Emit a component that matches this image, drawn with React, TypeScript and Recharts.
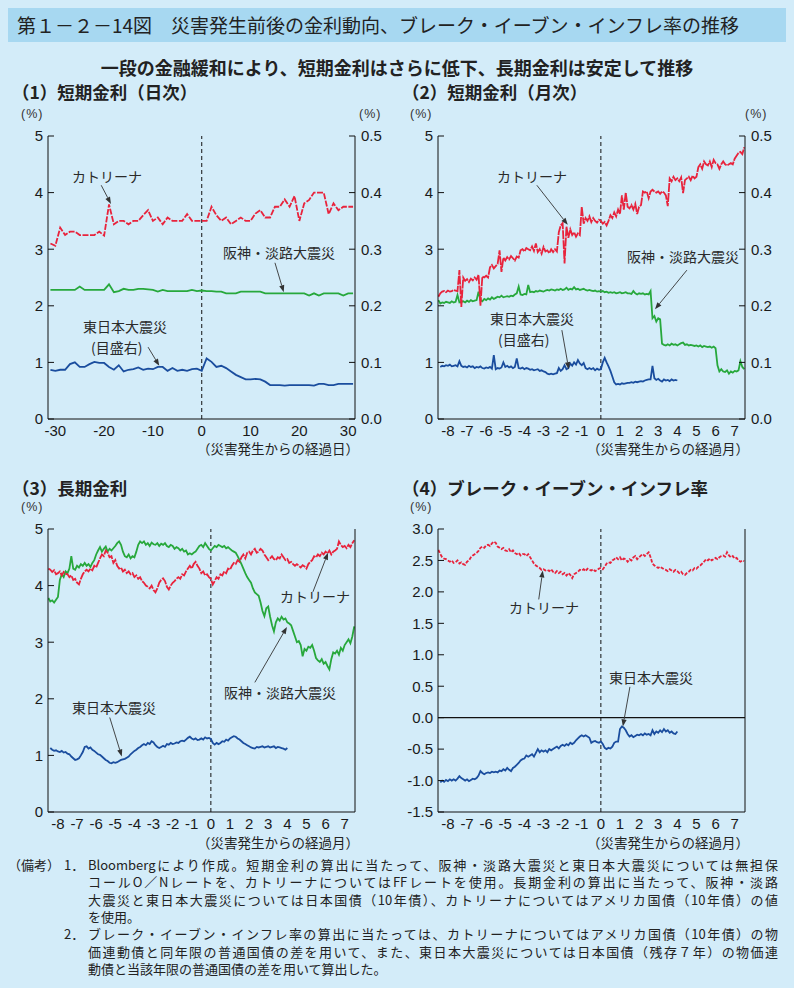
import React from 'react';
import { LineChart, Line, XAxis, YAxis, ReferenceLine } from 'recharts';

const RED = '#e8233c';
const GREEN = '#27a83c';
const BLUE = '#1a4d9e';
const INK = '#222';
const BG = '#d3ecf9';
const BAR = '#a7d8f1';
const JP = '"Noto Sans CJK JP", "Noto Sans", sans-serif';
const NUM = '"Liberation Sans", Arial, sans-serif';

// (1) short rate, daily: days -31 .. 31
const dailyKatrina = [
  3.1, 3.06, 3.38, 3.25, 3.31, 3.31, 3.25, 3.25, 3.25, 3.25, 3.31, 3.24, 3.79, 3.44, 3.5, 3.5,
  3.44, 3.5, 3.5, 3.6, 3.69, 3.5, 3.56, 3.44, 3.56, 3.5, 3.5, 3.5, 3.62, 3.5, 3.5, 3.5,
  3.5, 3.75, 3.6, 3.5, 3.56, 3.44, 3.5, 3.56, 3.5, 3.5, 3.63, 3.69, 3.56, 3.56, 3.75, 3.75,
  3.88, 3.75, 3.94, 3.5, 3.81, 3.87, 4.0, 4.0, 4.0, 3.62, 3.81, 3.69, 3.75, 3.75, 3.75,
];
const dailyHanshin = [
  2.28, 2.28, 2.28, 2.28, 2.28, 2.28, 2.34, 2.28, 2.28, 2.28, 2.28, 2.28, 2.38, 2.24, 2.26, 2.3,
  2.28, 2.28, 2.3, 2.3, 2.29, 2.28, 2.25, 2.28, 2.26, 2.26, 2.26, 2.26, 2.26, 2.28, 2.26, 2.27,
  2.26, 2.26, 2.25, 2.25, 2.22, 2.22, 2.22, 2.25, 2.25, 2.25, 2.25, 2.25, 2.22, 2.22, 2.22, 2.22,
  2.22, 2.22, 2.22, 2.22, 2.22, 2.18, 2.22, 2.18, 2.22, 2.22, 2.22, 2.22, 2.18, 2.22, 2.22,
];
// right scale
const dailyEastJapan = [
  0.087, 0.085, 0.087, 0.087, 0.097, 0.1, 0.092, 0.092, 0.097, 0.101, 0.099, 0.099, 0.092, 0.087, 0.095, 0.084,
  0.087, 0.088, 0.091, 0.087, 0.089, 0.088, 0.092, 0.092, 0.085, 0.09, 0.085, 0.087, 0.085, 0.088, 0.089, 0.085,
  0.107, 0.101, 0.092, 0.094, 0.09, 0.084, 0.078, 0.074, 0.07, 0.07, 0.071, 0.07, 0.066, 0.06, 0.06, 0.06,
  0.059, 0.06, 0.06, 0.06, 0.06, 0.06, 0.059, 0.062, 0.062, 0.06, 0.06, 0.062, 0.062, 0.062, 0.062,
];

// (2) short rate, monthly view: months -8.5 .. 7.5 every 0.1
const monthlyKatrina = [
  2.16, 2.22, 2.25, 2.26, 2.24, 2.27, 2.25, 2.26, 2.28, 2.27,
  2.26, 2.63, 1.98, 2.5, 2.44, 2.47, 2.42, 2.48, 2.45, 2.5,
  2.46, 2.55, 2.0, 2.52, 2.5, 2.53, 2.5, 2.68, 2.72, 2.66,
  2.7, 2.74, 2.98, 2.6, 2.85, 2.8, 2.86, 2.82, 2.88, 2.84,
  2.8, 2.87, 2.85, 2.98, 3.0, 2.96, 3.02, 3.0, 2.98, 3.05,
  2.97, 3.1, 2.95, 3.0, 2.92, 3.04, 2.96, 2.98, 2.93, 3.0,
  2.95, 3.0, 2.96, 3.3, 3.42, 3.46, 2.75, 3.4, 3.2, 3.35,
  3.25, 3.3, 3.22, 3.28, 3.25, 3.75, 3.45, 3.55, 3.5, 3.58,
  3.48, 3.55, 3.5, 3.47, 3.52, 3.5, 3.45, 3.48, 3.42, 3.5,
  3.6, 3.55, 3.65, 3.58, 3.7, 3.62, 3.95, 3.7, 4.0, 3.75,
  3.72, 3.78, 3.7, 3.8, 3.62, 3.75, 3.78, 4.02, 4.0, 4.02,
  3.9, 4.02, 4.05, 4.02, 4.0, 4.02, 3.98, 4.02, 4.0, 3.95,
  3.76, 4.25, 4.2, 4.28, 4.22, 4.25, 4.2, 4.27, 3.99, 4.22,
  4.25, 4.28, 4.22, 4.3, 4.25, 4.28, 4.45, 4.5, 4.42, 4.55,
  4.5, 4.48, 4.55, 4.45, 4.58, 4.52, 4.5, 4.42, 4.5, 4.55,
  4.5, 4.48, 4.5, 4.52, 4.5, 4.6, 4.65, 4.7, 4.72, 4.68,
  4.8,
];
const monthlyHanshin = [
  2.1, 2.04, 2.06, 2.05, 2.07, 2.06, 2.05, 2.08, 2.06, 2.07,
  2.19, 2.06, 2.07, 2.08, 2.06, 2.09, 2.07, 2.1, 2.08, 2.09,
  2.1, 2.25, 2.1, 2.08, 2.12, 2.1, 2.13, 2.11, 2.15, 2.12,
  2.14, 2.16, 2.15, 2.18, 2.15, 2.16, 2.17, 2.16, 2.18, 2.17,
  2.2, 2.22, 2.34, 2.2, 2.19, 2.21, 2.2, 2.37, 2.24, 2.25,
  2.24, 2.26, 2.25, 2.27, 2.26, 2.25, 2.27, 2.28, 2.27, 2.29,
  2.28, 2.27, 2.29, 2.28, 2.3, 2.28, 2.29, 2.32, 2.28, 2.3,
  2.29, 2.33, 2.29, 2.3, 2.28, 2.29, 2.3, 2.28, 2.27, 2.28,
  2.27, 2.26, 2.27, 2.25, 2.26, 2.25, 2.26, 2.24, 2.25, 2.23,
  2.24, 2.23, 2.24, 2.22, 2.23, 2.24, 2.22, 2.23, 2.24, 2.22,
  2.22, 2.21, 2.26, 2.22, 2.2, 2.22, 2.21, 2.22, 2.2, 2.21,
  2.2, 2.26, 1.78, 1.82, 1.72, 1.78, 1.76, 1.33, 1.31, 1.3,
  1.32, 1.3, 1.33, 1.31, 1.32, 1.3, 1.32, 1.34, 1.35, 1.31,
  1.32, 1.3, 1.31, 1.3, 1.29, 1.3, 1.28, 1.3, 1.27, 1.29,
  1.28, 1.27, 1.28, 1.26, 1.28, 1.25, 0.95, 0.84, 0.88, 0.84,
  0.83, 0.86, 0.8, 0.84, 0.82, 0.85, 0.84, 0.86, 1.02, 0.92,
  0.88,
];
// right scale, ends at month 4.0
const monthlyEastJapan = [
  null, 0.092, 0.094, 0.093, 0.095, 0.094, 0.096, 0.093, 0.094, 0.095,
  0.093, 0.102, 0.094, 0.092, 0.093, 0.091, 0.094, 0.092, 0.093, 0.09,
  0.092, 0.091, 0.093, 0.09, 0.089, 0.091, 0.09, 0.092, 0.089, 0.113,
  0.088, 0.09, 0.089, 0.091, 0.1, 0.092, 0.094, 0.091, 0.093, 0.09,
  0.092, 0.107, 0.09, 0.089, 0.091, 0.088, 0.09, 0.089, 0.087, 0.088,
  0.086, 0.087, 0.088, 0.085, 0.086, 0.084, 0.083, 0.08, 0.079, 0.08,
  0.079, 0.08, 0.081, 0.09, 0.085, 0.088, 0.095, 0.088, 0.09, 0.098,
  0.094, 0.1, 0.096, 0.104, 0.098, 0.095, 0.099, 0.09, 0.088, 0.09,
  0.088, 0.09, 0.086, 0.089, 0.087, 0.088, 0.1, 0.108, 0.1, 0.093,
  0.085, 0.075, 0.065, 0.061, 0.062, 0.061, 0.063, 0.062, 0.063, 0.064,
  0.064, 0.065, 0.064, 0.066, 0.065, 0.066, 0.067, 0.066, 0.068, 0.069,
  0.07, 0.07, 0.094, 0.072, 0.069, 0.071, 0.068, 0.066, 0.07, 0.068,
  0.069, 0.067, 0.07, 0.068, 0.069, 0.068,
];

// (3) long rate
const longKatrina = [
  4.3, 4.28, 4.24, 4.27, 4.2, 4.22, 4.25, 4.18, 4.24, 4.21,
  4.2, 4.15, 4.18, 4.1, 4.12, 4.05, 4.02, 4.12, 4.2, 4.25,
  4.28, 4.25, 4.3, 4.27, 4.35, 4.32, 4.4, 4.48, 4.55, 4.52,
  4.62, 4.58, 4.5, 4.52, 4.4, 4.45, 4.35, 4.3, 4.32, 4.25,
  4.28, 4.22, 4.25, 4.2, 4.22, 4.15, 4.18, 4.12, 4.15, 4.08,
  4.05, 4.0, 3.98, 3.95, 4.0, 3.92, 3.88, 3.95, 4.05, 4.1,
  4.13, 4.08, 3.98, 3.93, 4.0, 4.05, 4.08, 4.12, 4.15, 4.12,
  4.2, 4.18, 4.25, 4.3, 4.35, 4.3, 4.38, 4.42, 4.35, 4.3,
  4.22, 4.25, 4.18, 4.2, 4.15, 4.12, 4.02, 4.08, 4.15, 4.12,
  4.2, 4.18, 4.25, 4.22, 4.3, 4.28, 4.35, 4.4, 4.38, 4.45,
  4.42, 4.5, 4.55, 4.48, 4.58, 4.6, 4.55, 4.62, 4.65, 4.58,
  4.6, 4.65, 4.62, 4.55, 4.5, 4.45, 4.48, 4.52, 4.47, 4.45,
  4.5, 4.48, 4.55, 4.5, 4.45, 4.47, 4.4, 4.42, 4.38, 4.35,
  4.38, 4.35, 4.32, 4.36, 4.34, 4.3, 4.38, 4.42, 4.45, 4.52,
  4.5, 4.55, 4.52, 4.58, 4.55, 4.6, 4.57, 4.62, 4.55, 4.6,
  4.62, 4.65, 4.78, 4.72, 4.68, 4.7, 4.66, 4.72, 4.68, 4.75,
  4.8,
];
const longHanshin = [
  3.78, 3.72, 3.74, 3.7, 3.75, 3.8, 4.1, 4.2, 4.15, 4.25,
  4.22, 4.3, 4.52, 4.3, 4.28, 4.35, 4.32, 4.38, 4.35, 4.4,
  4.35, 4.38, 4.33, 4.4, 4.45, 4.55, 4.62, 4.68, 4.6, 4.65,
  4.69, 4.6, 4.65, 4.62, 4.66, 4.7, 4.75, 4.78, 4.72, 4.6,
  4.52, 4.5, 4.55, 4.48, 4.52, 4.5, 4.6, 4.72, 4.78, 4.75,
  4.78, 4.72, 4.75, 4.7, 4.76, 4.73, 4.72, 4.75, 4.7, 4.74,
  4.72, 4.75, 4.7, 4.68, 4.72, 4.7, 4.65, 4.68, 4.66, 4.62,
  4.65, 4.6, 4.62, 4.55, 4.57, 4.55, 4.58, 4.6, 4.65, 4.7,
  4.72, 4.68, 4.75, 4.7, 4.65, 4.62, 4.66, 4.7, 4.68, 4.72,
  4.7, 4.68, 4.7, 4.66, 4.68, 4.65, 4.62, 4.6, 4.58, 4.52,
  4.45, 4.38, 4.3, 4.22, 4.15, 4.1, 4.05, 3.95, 3.88, 3.85,
  3.82, 3.7, 3.55, 3.46, 3.6, 3.63, 3.45, 3.3, 3.19, 3.35,
  3.42, 3.38, 3.45, 3.4, 3.42, 3.35, 3.33, 3.3, 3.2, 3.1,
  3.0, 3.02, 2.95, 2.75, 2.88, 2.85, 2.92, 2.9, 2.95, 2.85,
  2.72, 2.68, 2.65, 2.7, 2.62, 2.65, 2.58, 2.52, 2.7, 2.82,
  2.8, 2.85, 2.78, 2.9, 2.85, 2.95, 3.0, 3.05, 2.98, 3.1,
  3.28,
];
const longEastJapan = [
  null, 1.13, 1.1, 1.08, 1.09, 1.07, 1.06, 1.08, 1.05, 1.06,
  1.03, 1.02, 0.98, 0.95, 0.92, 0.93, 0.95, 1.0, 1.06, 1.15,
  1.16, 1.12, 1.14, 1.1, 1.08, 1.05, 1.02, 1.01, 0.98, 0.95,
  0.92, 0.9, 0.87, 0.86, 0.88, 0.87, 0.88, 0.9, 0.92, 0.93,
  0.94, 0.96, 0.98, 1.02, 1.05, 1.08, 1.1, 1.13, 1.15, 1.18,
  1.2, 1.18, 1.22, 1.2, 1.25, 1.23, 1.18, 1.15, 1.13, 1.15,
  1.17, 1.15, 1.2, 1.19, 1.22, 1.2, 1.21, 1.23, 1.22, 1.25,
  1.26, 1.25, 1.28, 1.31, 1.33, 1.3, 1.28, 1.3, 1.27, 1.28,
  1.3, 1.28, 1.32, 1.3, 1.31, 1.29, 1.22, 1.19, 1.22, 1.2,
  1.22, 1.25, 1.24, 1.28, 1.26, 1.3, 1.32, 1.34, 1.33, 1.3,
  1.28, 1.25, 1.22, 1.2, 1.18, 1.16, 1.14, 1.13, 1.12, 1.15,
  1.14, 1.15, 1.16, 1.14, 1.15, 1.16, 1.14, 1.15, 1.16, 1.13,
  1.15, 1.14, 1.13, 1.12, 1.1, 1.13,
];

// (4) break-even inflation
const beiKatrina = [
  2.67, 2.6, 2.55, 2.53, 2.52, 2.5, 2.48, 2.5, 2.46, 2.47,
  2.5, 2.45, 2.47, 2.44, 2.43, 2.48, 2.5, 2.55, 2.58, 2.6,
  2.62, 2.65, 2.7, 2.72, 2.7, 2.74, 2.75, 2.73, 2.77, 2.8,
  2.78, 2.72, 2.7, 2.68, 2.7, 2.66, 2.65, 2.68, 2.63, 2.66,
  2.62, 2.6, 2.62, 2.58, 2.6, 2.6, 2.57, 2.6, 2.55, 2.5,
  2.45, 2.42, 2.4, 2.38, 2.35, 2.36, 2.34, 2.35, 2.33, 2.36,
  2.32, 2.3, 2.33, 2.3, 2.32, 2.28, 2.3, 2.26, 2.3, 2.27,
  2.22, 2.28, 2.3, 2.32, 2.35, 2.34, 2.36, 2.33, 2.37, 2.35,
  2.34, 2.36, 2.33, 2.35, 2.37, 2.38, 2.36, 2.4, 2.45, 2.47,
  2.46, 2.5, 2.52, 2.55, 2.52, 2.55, 2.5, 2.53, 2.52, 2.48,
  2.52, 2.5, 2.55, 2.57, 2.52, 2.55, 2.58, 2.6, 2.57, 2.6,
  2.63, 2.55, 2.45, 2.42, 2.4, 2.38, 2.4, 2.38, 2.36, 2.35,
  2.33, 2.36, 2.34, 2.32, 2.35, 2.33, 2.3, 2.32, 2.28, 2.27,
  2.3, 2.32, 2.35, 2.34, 2.38, 2.37, 2.4, 2.42, 2.45, 2.48,
  2.52, 2.5, 2.53, 2.5, 2.52, 2.54, 2.52, 2.55, 2.57, 2.58,
  2.56, 2.63, 2.58, 2.55, 2.57, 2.53, 2.54, 2.5, 2.48, 2.5,
  2.49,
];
const beiEastJapan = [
  null, -1.03, -1.0, -1.02, -0.99, -1.01, -0.98, -1.0, -0.98, -1.0,
  -0.97, -0.93, -0.96, -0.98, -1.0, -0.98, -1.01, -0.99, -0.97, -0.98,
  -0.96, -0.92, -0.85, -0.88, -0.9, -0.88, -0.87, -0.88, -0.86, -0.87,
  -0.86, -0.87, -0.84, -0.85, -0.82, -0.84, -0.8, -0.83, -0.85, -0.8,
  -0.78, -0.75, -0.72, -0.68, -0.66, -0.65, -0.6, -0.62, -0.6, -0.58,
  -0.62, -0.56, -0.5, -0.55, -0.52, -0.54, -0.52, -0.55, -0.5, -0.52,
  -0.5, -0.48, -0.46, -0.49, -0.45, -0.43, -0.45, -0.42, -0.44, -0.4,
  -0.42, -0.4, -0.36, -0.33, -0.3, -0.28, -0.3, -0.28, -0.3, -0.32,
  -0.4, -0.38, -0.37, -0.39, -0.4, -0.38, -0.42, -0.48, -0.5, -0.48,
  -0.49, -0.46, -0.4, -0.38, -0.38, -0.18, -0.14, -0.16, -0.2, -0.26,
  -0.3, -0.28, -0.31, -0.29, -0.27, -0.28, -0.26, -0.28, -0.25, -0.27,
  -0.26, -0.28, -0.2, -0.26, -0.22, -0.24, -0.2, -0.23, -0.18, -0.22,
  -0.2, -0.24, -0.22, -0.25, -0.26, -0.22,
];

const dayTicks = [-30, -20, -10, 0, 10, 20, 30];
const monthTicks = [-8, -7, -6, -5, -4, -3, -2, -1, 0, 1, 2, 3, 4, 5, 6, 7];
const rateTicks = [0, 1, 2, 3, 4, 5];
const rateRightTicks = [0, 0.1, 0.2, 0.3, 0.4, 0.5];
const beiTicks = [-1.5, -1, -0.5, 0, 0.5, 1, 1.5, 2, 2.5, 3];

const days = dailyKatrina.map((_, i) => i - 31);
const months = monthlyKatrina.map((_, i) => (i - 85) / 10);

const dailyData = days.map((x, i) => ({ x, katrina: dailyKatrina[i], hanshin: dailyHanshin[i], east: dailyEastJapan[i] }));
const monthlyData = months.map((x, i) => ({ x, katrina: monthlyKatrina[i], hanshin: monthlyHanshin[i], east: monthlyEastJapan[i] ?? null }));
const longData = months.map((x, i) => ({ x, katrina: longKatrina[i], hanshin: longHanshin[i], east: longEastJapan[i] ?? null }));
const beiData = months.map((x, i) => ({ x, katrina: beiKatrina[i], east: beiEastJapan[i] ?? null }));

const fix1 = (v: number) => v.toFixed(1);
const tickStyle = { fontSize: 15, fill: '#1a1a1a', fontFamily: NUM };

const arrowShape = (p: any) => {
  const { x1, y1, x2, y2 } = p;
  const a = Math.atan2(y2 - y1, x2 - x1);
  const bx = x2 - 7 * Math.cos(a);
  const by = y2 - 7 * Math.sin(a);
  const nx = -Math.sin(a) * 2.6;
  const ny = Math.cos(a) * 2.6;
  return (
    <g>
      <line x1={x1} y1={y1} x2={bx} y2={by} stroke="#333" strokeWidth={0.9} />
      <polygon points={`${x2},${y2} ${bx + nx},${by + ny} ${bx - nx},${by - ny}`} fill="#333" />
    </g>
  );
};

type Series = { key: string; color: string; axis: string; dash?: string };
type Arrow = [number, number, number, number];

type PanelProps = {
  left: number;
  top: number;
  data: any[];
  xDomain: [number, number];
  xTicks: number[];
  yDomain: [number, number];
  yTicks: number[];
  yFormat?: (v: number) => string;
  rightTicks?: number[];
  series: Series[];
  arrows: Arrow[];
  zeroLine?: boolean;
};

const Panel = ({ left, top, data, xDomain, xTicks, yDomain, yTicks, yFormat, rightTicks, series, arrows, zeroLine }: PanelProps) => (
  <div style={{ position: 'absolute', left, top }}>
    <LineChart width={400} height={343} data={data} margin={{ top: 14, right: 0, bottom: 0, left: 0 }}>
      <XAxis dataKey="x" type="number" domain={xDomain} ticks={xTicks} interval={0} allowDataOverflow
        tickLine={false} tickMargin={0} axisLine={{ stroke: '#111' }} height={46} tick={tickStyle} />
      <XAxis xAxisId="top" orientation="top" dataKey="x" type="number" domain={xDomain} allowDataOverflow
        tick={false} tickLine={false} height={0} axisLine={{ stroke: '#111' }} />
      <YAxis yAxisId="left" domain={yDomain} ticks={yTicks} interval={0} allowDataOverflow width={48}
        tickSize={-6} tickMargin={11} tickFormatter={yFormat} axisLine={{ stroke: '#111' }}
        tickLine={{ stroke: '#111' }} tick={tickStyle} />
      {rightTicks ? (
        <YAxis yAxisId="right" orientation="right" domain={[0, 0.5]} ticks={rightTicks} interval={0} allowDataOverflow
          width={45} tickSize={-6} tickMargin={12} tickFormatter={fix1} axisLine={{ stroke: '#111' }}
          tickLine={{ stroke: '#111' }} tick={tickStyle} />
      ) : (
        <YAxis yAxisId="right" orientation="right" domain={yDomain} width={45} tick={false} tickLine={false}
          axisLine={{ stroke: '#111' }} />
      )}
      <ReferenceLine yAxisId="left" x={0} stroke="#111" strokeDasharray="4 3" strokeWidth={1} />
      {zeroLine && <ReferenceLine yAxisId="left" y={0} stroke="#111" strokeWidth={1.2} />}
      {series.map((s) => (
        <Line key={s.key} yAxisId={s.axis} dataKey={s.key} type="linear" stroke={s.color} strokeWidth={1.8}
          strokeDasharray={s.dash} dot={false} isAnimationActive={false} />
      ))}
      {arrows.map((a, i) => (
        <ReferenceLine key={i} yAxisId="left" ifOverflow="visible"
          segment={[{ x: a[0], y: a[1] }, { x: a[2], y: a[3] }]} shape={arrowShape} />
      ))}
    </LineChart>
  </div>
);

const Label = ({ x, y, children, lh = 17 }: { x: number; y: number; children: React.ReactNode; lh?: number }) => (
  <div style={{ position: 'absolute', left: x, top: y, fontSize: 14, lineHeight: `${lh}px`, whiteSpace: 'nowrap', color: '#2a2a2a' }}>
    {children}
  </div>
);

const Pct = ({ x, y }: { x: number; y: number }) => (
  <div style={{ position: 'absolute', left: x, top: y, fontSize: 12.5, fontFamily: NUM, letterSpacing: 1, color: '#333' }}>(%)</div>
);

const XTitle = ({ right, y, text }: { right: number; y: number; text: string }) => (
  <div style={{ position: 'absolute', left: right - 200, width: 200, top: y, textAlign: 'right', fontSize: 13.5, lineHeight: '15px', whiteSpace: 'nowrap' }}>{text}</div>
);

const noteLines: { indent: number; mark?: string; text: string; last?: boolean }[] = [
  { indent: 88, mark: '1．', text: 'Bloombergにより作成。短期金利の算出に当たって、阪神・淡路大震災と東日本大震災については無担保' },
  { indent: 88, text: 'コールO／Nレートを、カトリーナについてはFFレートを使用。長期金利の算出に当たって、阪神・淡路' },
  { indent: 88, text: '大震災と東日本大震災については日本国債（10年債）、カトリーナについてはアメリカ国債（10年債）の値' },
  { indent: 88, text: 'を使用。', last: true },
  { indent: 88, mark: '2．', text: 'ブレーク・イーブン・インフレ率の算出に当たっては、カトリーナについてはアメリカ国債（10年債）の物' },
  { indent: 88, text: '価連動債と同年限の普通国債の差を用いて、また、東日本大震災については日本国債（残存７年）の物価連' },
  { indent: 88, text: '動債と当該年限の普通国債の差を用いて算出した。', last: true },
];

export default function App() {
  const panelTitle = { position: 'absolute' as const, fontSize: 17.5, fontWeight: 700, lineHeight: '22px', whiteSpace: 'nowrap' as const };
  return (
    <div style={{ position: 'absolute', left: 0, top: 0, width: 794, height: 988, background: BG, fontFamily: JP, color: INK, overflow: 'hidden' }}>
      <div style={{ position: 'absolute', left: 8, top: 8, width: 778, height: 34, background: BAR }} />
      <div style={{ position: 'absolute', left: 17, top: 8, lineHeight: '34px', fontSize: 19, whiteSpace: 'nowrap' }}>
        第１－２－14図　災害発生前後の金利動向、ブレーク・イーブン・インフレ率の推移
      </div>
      <div style={{ position: 'absolute', left: 0, width: 794, top: 55, textAlign: 'center', fontSize: 18, fontWeight: 700, lineHeight: '24px' }}>
        一段の金融緩和により、短期金利はさらに低下、長期金利は安定して推移
      </div>

      <div style={{ ...panelTitle, left: 12, top: 81 }}>（1）短期金利（日次）</div>
      <div style={{ ...panelTitle, left: 402, top: 81 }}>（2）短期金利（月次）</div>
      <div style={{ ...panelTitle, left: 12, top: 477 }}>（3）長期金利</div>
      <div style={{ ...panelTitle, left: 402, top: 477 }}>（4）ブレーク・イーブン・インフレ率</div>

      <Pct x={21} y={107} />
      <Pct x={359} y={107} />
      <Pct x={410} y={107} />
      <Pct x={745} y={107} />
      <Pct x={21} y={500} />
      <Pct x={410} y={500} />

      <Panel left={0} top={122} data={dailyData} xDomain={[-31.5, 31.4]} xTicks={dayTicks}
        yDomain={[0, 5]} yTicks={rateTicks} rightTicks={rateRightTicks}
        series={[
          { key: 'hanshin', color: GREEN, axis: 'left' },
          { key: 'east', color: BLUE, axis: 'right' },
          { key: 'katrina', color: RED, axis: 'left', dash: '6 1.5' },
        ]}
        arrows={[[-20.6, 4.13, -18.6, 3.8], [15.0, 2.76, 16.8, 2.24], [-11.0, 1.27, -8.7, 0.94]]} />
      <Panel left={390} top={122} data={monthlyData} xDomain={[-8.52, 7.54]} xTicks={monthTicks}
        yDomain={[0, 5]} yTicks={rateTicks} rightTicks={rateRightTicks}
        series={[
          { key: 'hanshin', color: GREEN, axis: 'left' },
          { key: 'east', color: BLUE, axis: 'right' },
          { key: 'katrina', color: RED, axis: 'left', dash: '9 1' },
        ]}
        arrows={[[-3.35, 4.13, -1.73, 3.43], [4.5, 2.63, 2.83, 1.94], [-2.04, 1.57, -1.68, 0.88]]} />
      <Panel left={0} top={515} data={longData} xDomain={[-8.52, 7.54]} xTicks={monthTicks}
        yDomain={[0, 5]} yTicks={rateTicks}
        series={[
          { key: 'hanshin', color: GREEN, axis: 'left' },
          { key: 'east', color: BLUE, axis: 'left' },
          { key: 'katrina', color: RED, axis: 'left', dash: '8 1.2' },
        ]}
        arrows={[[5.34, 3.89, 6.13, 4.58], [2.3, 2.29, 3.98, 3.27], [-5.29, 1.67, -4.66, 0.98]]} />
      <Panel left={390} top={515} data={beiData} xDomain={[-8.52, 7.54]} xTicks={monthTicks}
        yDomain={[-1.5, 3]} yTicks={beiTicks} yFormat={fix1} zeroLine
        series={[
          { key: 'east', color: BLUE, axis: 'left' },
          { key: 'katrina', color: RED, axis: 'left', dash: '3.5 1.5' },
        ]}
        arrows={[[-3.25, 1.88, -3.04, 2.34], [1.52, 0.49, 1.15, -0.14]]} />

      <Label x={72} y={168}>カトリーナ</Label>
      <Label x={223} y={244}>阪神・淡路大震災</Label>
      <Label x={83} y={316} lh={21}>東日本大震災<br /><span style={{ paddingLeft: 8 }}>(目盛右)</span></Label>

      <Label x={497} y={168}>カトリーナ</Label>
      <Label x={627} y={248}>阪神・淡路大震災</Label>
      <Label x={490} y={308} lh={21}>東日本大震災<br /><span style={{ paddingLeft: 8 }}>(目盛右)</span></Label>

      <Label x={280} y={588}>カトリーナ</Label>
      <Label x={224} y={684}>阪神・淡路大震災</Label>
      <Label x={72} y={699}>東日本大震災</Label>

      <Label x={509} y={599}>カトリーナ</Label>
      <Label x={609} y={669}>東日本大震災</Label>

      <XTitle right={359} y={441} text="（災害発生からの経過日）" />
      <XTitle right={749} y={441} text="（災害発生からの経過月）" />
      <XTitle right={359} y={835} text="（災害発生からの経過月）" />
      <XTitle right={749} y={835} text="（災害発生からの経過月）" />

      <div style={{ position: 'absolute', left: 8, top: 856, fontSize: 13, lineHeight: '17.3px', whiteSpace: 'nowrap' }}>（備考）</div>
      {noteLines.map((l, i) => (
        <React.Fragment key={i}>
          {l.mark && (
            <div style={{ position: 'absolute', left: 64, top: 856 + i * 17.3, fontSize: 13, lineHeight: '17.3px' }}>{l.mark}</div>
          )}
          <div style={{
            position: 'absolute', left: l.indent, width: 778 - l.indent, top: 856 + i * 17.3, fontSize: 13,
            lineHeight: '17.3px', whiteSpace: 'nowrap', textAlign: l.last ? 'left' : 'justify',
            textAlignLast: l.last ? 'left' : 'justify',
          }}>{l.text}</div>
        </React.Fragment>
      ))}
    </div>
  );
}
